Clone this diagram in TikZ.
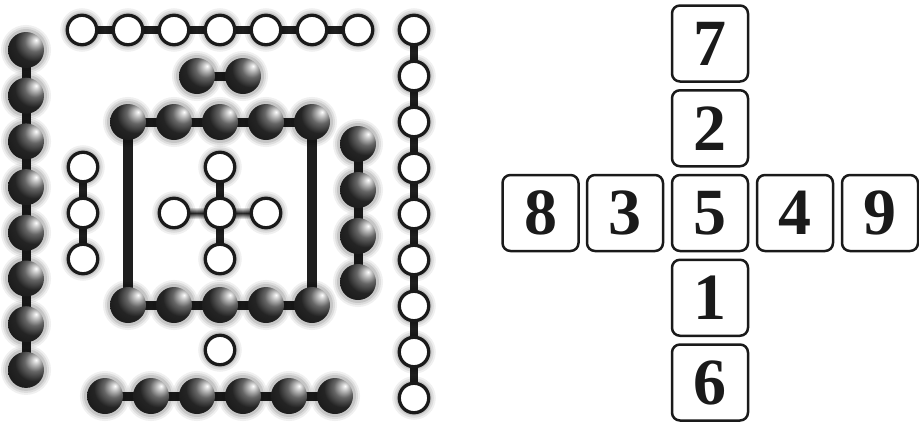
\documentclass[tikz,border=0pt]{standalone}
\usepackage{fontspec}
\setmainfont{Liberation Serif}
\usetikzlibrary{calc}
\pgfdeclarelayer{links}
\pgfsetlayers{links,main}
\definecolor{linkc}{HTML}{1E1E1E}
\definecolor{ink}{HTML}{1A1A1A}
\pgfdeclareradialshading{myball}{\pgfpoint{14bp}{14bp}}{%
  color(0bp)=(white); color(5bp)=(black!22); color(14bp)=(black!60);
  color(26bp)=(black!86); color(40bp)=(black!90); color(100bp)=(black!90)}
\tikzset{
  glow/.style={
    preaction={draw=black,draw opacity=0.06,line width=14pt},
    preaction={draw=black,draw opacity=0.08,line width=10pt},
    preaction={draw=black,draw opacity=0.10,line width=6pt}},
  wball/.style={circle,glow,draw=ink,line width=3.3pt,fill=white,minimum size=29.5pt,inner sep=0pt},
  bball/.style={circle,glow,shading=myball,minimum size=36pt,inner sep=0pt},
  chainlink/.style={draw=linkc,line width=8pt},
  blink/.style={draw=linkc,line width=9pt},
  barlink/.style={draw=linkc,line width=10pt},
  numbox/.style={rectangle,rounded corners=8pt,draw=ink,line width=2.5pt,fill=white,
    minimum width=76pt,minimum height=76pt,inner sep=0pt,text=ink,
    font=\bfseries\fontsize{66}{66}\selectfont}
}
\begin{document}
\begin{tikzpicture}[x=1pt,y=-1pt]
\useasboundingbox (0,0) rectangle (919,424);
% top white row
\foreach \i in {0,...,6} \node[wball] (t\i) at ({82+46*\i},30) {};
% right white column
\foreach \i in {0,...,8} \node[wball] (r\i) at (414,{30+46*\i}) {};
% left black column
\foreach \i in {0,...,7} \node[bball] (l\i) at (26,{50+45.7*\i}) {};
% black pair
\node[bball] (p0) at (197,76) {};
\node[bball] (p1) at (243,76) {};
% square rows
\foreach \i in {0,...,4} \node[bball] (sa\i) at ({128+46*\i},122) {};
\foreach \i in {0,...,4} \node[bball] (sb\i) at ({128+46*\i},305) {};
% left white column of three
\foreach \i in {0,...,2} \node[wball] (w\i) at (83,{167+46*\i}) {};
% plus
\node[wball] (pc) at (220,213) {};
\node[wball] (pt) at (220,167) {};
\node[wball] (pb) at (220,259) {};
\node[wball] (pl) at (174,213) {};
\node[wball] (pr) at (266,213) {};
% right black column of four
\foreach \i in {0,...,3} \node[bball] (k\i) at (358,{144+46*\i}) {};
% lone white
\node[wball] (lone) at (220,350) {};
% bottom black row
\foreach \i in {0,...,5} \node[bball] (b\i) at ({105+46*\i},396) {};

\begin{pgfonlayer}{links}
\foreach \i [evaluate=\i as \j using int(\i+1)] in {0,...,5} \draw[chainlink] (t\i.center) -- (t\j.center);
\foreach \i [evaluate=\i as \j using int(\i+1)] in {0,...,7} \draw[chainlink] (r\i.center) -- (r\j.center);
\foreach \i [evaluate=\i as \j using int(\i+1)] in {0,...,6} \draw[blink] (l\i.center) -- (l\j.center);
\draw[blink] (p0.center) -- (p1.center);
\foreach \i [evaluate=\i as \j using int(\i+1)] in {0,...,3} \draw[blink] (sa\i.center) -- (sa\j.center);
\foreach \i [evaluate=\i as \j using int(\i+1)] in {0,...,3} \draw[blink] (sb\i.center) -- (sb\j.center);
\draw[barlink] (sa0.center) -- (sb0.center);
\draw[barlink] (sa4.center) -- (sb4.center);
\foreach \i [evaluate=\i as \j using int(\i+1)] in {0,...,1} \draw[chainlink] (w\i.center) -- (w\j.center);
\draw[chainlink] (pt.center) -- (pc.center);
\draw[chainlink] (pc.center) -- (pb.center);
\shade[top color=white,bottom color=white,middle color=black!85] ($(pl.center)+(0,-6)$) rectangle ($(pc.center)+(0,6)$);
\shade[top color=white,bottom color=white,middle color=black!85] ($(pc.center)+(0,-6)$) rectangle ($(pr.center)+(0,6)$);
\foreach \i [evaluate=\i as \j using int(\i+1)] in {0,...,2} \draw[blink] (k\i.center) -- (k\j.center);
\foreach \i [evaluate=\i as \j using int(\i+1)] in {0,...,4} \draw[blink] (b\i.center) -- (b\j.center);
\end{pgfonlayer}

% number cross
\node[numbox] (n7) at (710,43.5) {7};
\node[numbox] (n2) at (710,128.25) {2};
\node[numbox] (n5) at (710,213) {5};
\node[numbox] (n1) at (710,297.75) {1};
\node[numbox] (n6) at (710,382.5) {6};
\node[numbox] (n8) at (540.5,213) {8};
\node[numbox] (n3) at (625,213) {3};
\node[numbox] (n4) at (795,213) {4};
\node[numbox] (n9) at (880,213) {9};
\end{tikzpicture}
\end{document}
